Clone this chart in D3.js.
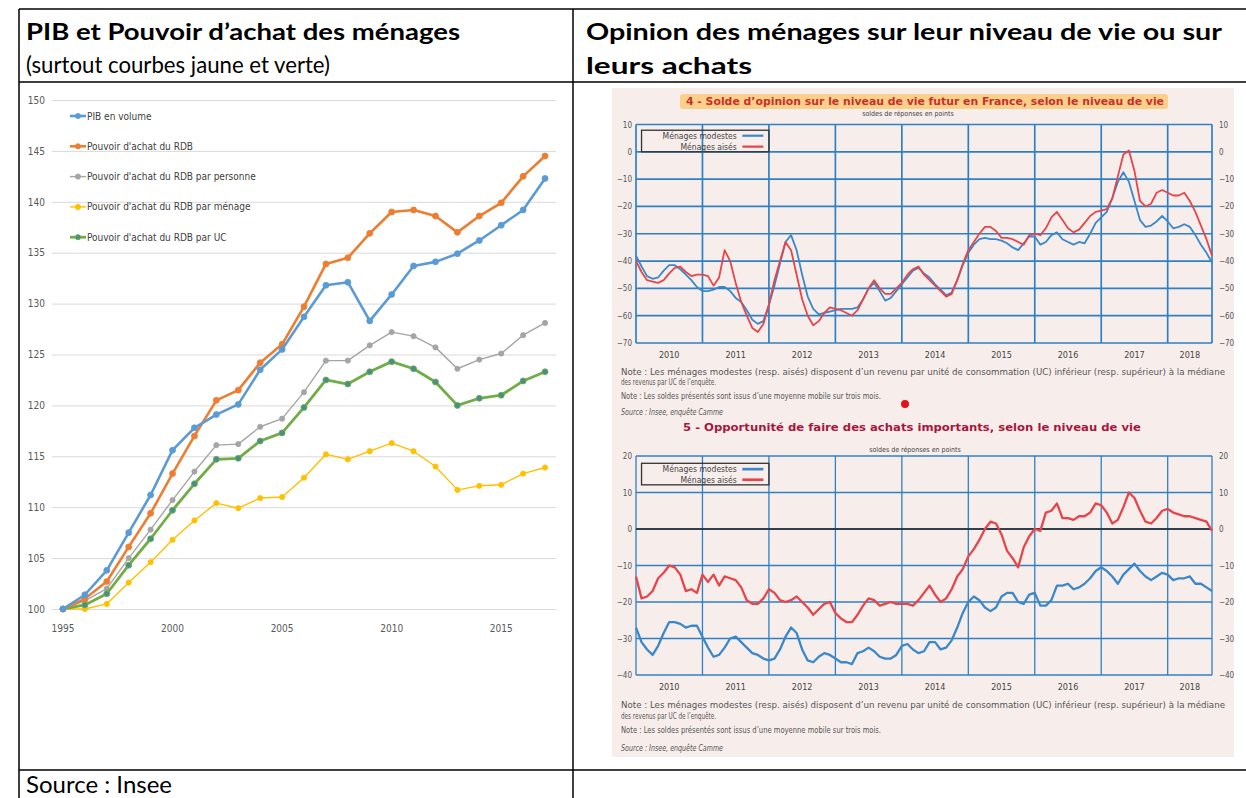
<!DOCTYPE html>
<html>
<head>
<meta charset="utf-8">
<script src="https://cdn.jsdelivr.net/npm/d3@7"></script>
<style>
  body { margin: 0; background: #fff; }
  svg { display: block; }
</style>
</head>
<body>
<script>
// ---- left chart : PIB et pouvoir d'achat (base 100 en 1995)
const years = [1995,1996,1997,1998,1999,2000,2001,2002,2003,2004,2005,2006,2007,2008,2009,2010,2011,2012,2013,2014,2015,2016,2017];
const yearTicks = [1995, 2000, 2005, 2010, 2015];
const pibVolume   = [100,101.4,103.8,107.5,111.2,115.6,117.8,119.1,120.1,123.5,125.5,128.7,131.8,132.1,128.3,130.9,133.7,134.1,134.9,136.2,137.7,139.2,142.3];
const rdb         = [100,101.0,102.7,106.1,109.4,113.3,117.0,120.5,121.5,124.2,126.0,129.7,133.9,134.5,136.9,139.0,139.2,138.6,137.0,138.6,139.9,142.5,144.5];
const rdbPersonne = [100,100.8,102.0,105.0,107.8,110.7,113.5,116.1,116.2,117.9,118.7,121.3,124.4,124.4,125.9,127.2,126.8,125.7,123.6,124.5,125.1,126.9,128.1];
const rdbMenage   = [100,100.0,100.5,102.6,104.6,106.8,108.7,110.4,109.9,110.9,111.0,112.9,115.2,114.7,115.5,116.3,115.5,114.0,111.7,112.1,112.2,113.3,113.9];
const rdbUC       = [100,100.4,101.5,104.3,106.9,109.7,112.3,114.7,114.8,116.5,117.3,119.8,122.5,122.1,123.3,124.3,123.6,122.3,120.0,120.7,121.0,122.4,123.3];
const seriesNames = ['PIB en volume', "Pouvoir d'achat du RDB", "Pouvoir d'achat du RDB par personne", "Pouvoir d'achat du RDB par ménage", "Pouvoir d'achat du RDB par UC"];

// ---- right charts : soldes mensuels, janvier 2010 -> septembre 2018
const opinionYears = [2010,2011,2012,2013,2014,2015,2016,2017,2018];
const niveauModestes = [
  -38,-42,-45.5,-46.5,-46,-43.5,-41.5,-41.5,-43,-45,-47,-49.5,
  -51,-51,-50.5,-49.5,-49.5,-51,-53.5,-55,-58,-61.5,-63,-62,
  -56,-49,-41,-33,-30.5,-36,-45,-53,-57.5,-59.5,-59,-58.5,
  -58,-57.5,-57.5,-57.5,-57,-54,-50,-48,-51,-54.5,-53.5,-51,
  -48.5,-46,-43.5,-42.5,-44.5,-46,-48.5,-50.5,-52.5,-51.5,-47,-41.5,
  -37,-34,-32,-31.5,-32,-32,-32.5,-33.5,-35,-36,-33.5,-31,
  -31,-34,-33,-30.5,-29.5,-32,-33,-34,-33,-33.5,-30,-26,
  -24,-22,-17,-11,-7.5,-11,-18,-25,-27.5,-27,-25.5,-23.5,
  -25.5,-28,-27.5,-26.5,-27.5,-30.5,-34,-37,-40.5];
const niveauAises = [
  -40,-44,-47,-47.5,-48,-47,-44.5,-42.5,-42,-44,-45.5,-45,
  -45,-45.5,-49,-46,-36,-40,-48,-55,-60,-64.5,-66,-63,
  -56,-47,-40,-33,-36,-45,-54,-60,-63.5,-62,-59,-57,
  -57.5,-58,-59,-60,-58,-54,-50,-47,-50,-52,-52,-50,
  -48,-45,-43,-42,-45,-47,-49,-51,-53,-52,-47,-41,
  -36,-33,-30,-27.5,-27.5,-29,-31.5,-31.5,-32,-33,-34,-30.5,
  -30,-30.5,-28,-24,-22,-25,-28,-29.5,-28.5,-26,-23.5,-22,
  -21.5,-21,-17,-9,-1,0.5,-7,-18,-20,-19,-15,-14,
  -15,-16,-16,-15,-18,-22,-27,-32,-38];
const achatsModestes = [
  -27,-31,-33,-34.5,-32,-28.5,-25.5,-25.5,-26,-27,-26.5,-26.5,
  -29.5,-32.5,-35,-34.5,-32.5,-30,-29.5,-31,-32.5,-34,-34.5,-35.5,
  -36,-35.5,-33,-29.5,-27,-28.5,-33,-36,-36.5,-35,-34,-34.5,
  -35.5,-36.5,-36.5,-37,-34,-33.5,-32.5,-33.5,-35,-35.5,-35.5,-34.5,
  -32,-31.5,-33,-34,-33.5,-31,-31,-33,-32.5,-30.5,-27,-23,
  -20,-18.5,-19.5,-21.5,-22.5,-21.5,-18.5,-17.5,-17.5,-20,-20.5,-18,
  -17.5,-21,-21,-19.5,-15.5,-15.5,-15,-16.5,-16,-15,-13.5,-11.5,
  -10.5,-11.5,-13,-15,-12.5,-11,-9.5,-11.5,-13,-14,-13,-12,
  -12.5,-14,-13.5,-13.5,-13,-15,-15,-16,-17];
const achatsAises = [
  -13,-19,-18.5,-17,-13.5,-12,-10,-10.5,-12.5,-17,-16.5,-17.5,
  -12.5,-14.5,-12.5,-15.5,-13,-13.5,-14,-16,-19.5,-20.5,-20.5,-19,
  -16.5,-17.5,-19.5,-20,-19.5,-18.5,-20,-21.5,-23.5,-22,-20.5,-20,
  -23,-24.5,-25.5,-25.5,-23.5,-21,-19,-19.5,-21,-20.5,-20,-20.5,
  -20.5,-20.5,-21,-19.5,-17.5,-15.5,-18,-20,-19,-16.5,-13,-11,
  -7.5,-5.5,-3,0,2,1.5,-1.5,-6,-8,-10.5,-5,-2,
  0,-0.5,4.5,5,7,3,3,2.5,3.5,3.5,4.5,7,
  6.5,4.5,1.5,2.5,6,10,8.5,5,2,1.5,3,5,
  5.5,4.5,4,3.5,3.5,3,2.5,2,-0.5];

const W = 1246, H = 798;
const narrow = "'Liberation Sans Narrow','DejaVu Sans Condensed',sans-serif";
const office = "Lato,'Open Sans',sans-serif";

const svg = d3.select('body').append('svg')
    .attr('width', W)
    .attr('height', H);

// ================= table frame and headings
const frame = svg.append('g').attr('stroke', '#000').attr('stroke-width', 1.5);
[[19, 9, W, 9], [19, 82, W, 82], [19, 770, W, 770], [19, 9, 19, H], [573, 9, 573, H]]
    .forEach(l => frame.append('line').attr('x1', l[0]).attr('y1', l[1]).attr('x2', l[2]).attr('y2', l[3]));

const heads = [
    {t: "PIB et Pouvoir d\u2019achat des ménages", x: 26, y: 40, w: 434, bold: true},
    {t: '(surtout courbes jaune et verte)', x: 26, y: 73, w: 304, bold: false},
    {t: "Opinion des ménages sur leur niveau de vie ou sur", x: 586, y: 40, w: 636, bold: true},
    {t: 'leurs achats', x: 586, y: 74, w: 166, bold: true},
    {t: 'Source : Insee', x: 26, y: 793, w: 146, bold: false}
];
svg.append('g').selectAll('text').data(heads).enter().append('text')
    .attr('x', d => d.x).attr('y', d => d.y)
    .attr('font-family', office)
    .attr('font-size', 23)
    .attr('font-weight', d => d.bold ? 700 : 400)
    .attr('textLength', d => d.w)
    .attr('lengthAdjust', 'spacingAndGlyphs')
    .attr('fill', '#000')
    .text(d => d.t);

// ================= left chart
const x1 = d3.scaleBand().domain(years).range([52, 556]);
const y1 = d3.scaleLinear().domain([100, 150]).range([609, 100]);
const cx = d => x1(d) + x1.bandwidth() / 2;

const gAxisY = svg.append('g')
    .attr('transform', 'translate(52,0)')
    .call(d3.axisLeft(y1).tickValues(d3.range(100, 151, 5)).tickSize(-504).tickPadding(7));
gAxisY.select('.domain').remove();
gAxisY.selectAll('line').attr('stroke', '#d9d9d9').attr('stroke-width', 1);
gAxisY.selectAll('text').attr('font-family', narrow).attr('font-size', 10).attr('fill', '#595959');

const gAxisX = svg.append('g')
    .attr('transform', 'translate(0,609)')
    .call(d3.axisBottom(x1).tickValues(yearTicks).tickSize(0).tickPadding(16));
gAxisX.select('.domain').remove();
gAxisX.selectAll('text').attr('font-family', narrow).attr('font-size', 10).attr('fill', '#595959');

const series1 = [
    {name: seriesNames[0], values: pibVolume,   color: '#5b9bd5', width: 2.6, marker: '#5b9bd5'},
    {name: seriesNames[1], values: rdb,         color: '#ed7d31', width: 2.6, marker: '#ed7d31'},
    {name: seriesNames[2], values: rdbPersonne, color: '#a5a5a5', width: 1.4, marker: '#a5a5a5'},
    {name: seriesNames[3], values: rdbMenage,   color: '#ffc000', width: 1.4, marker: '#ffc000'},
    {name: seriesNames[4], values: rdbUC,       color: '#70ad47', width: 2.8, marker: '#4a8e8a'}
];
const line1 = d3.line().x((d, i) => cx(years[i])).y(d => y1(d));

// draw order: light lines first, main lines on top
const order1 = [3, 2, 4, 1, 0];
order1.forEach(k => {
    const s = series1[k];
    const g = svg.append('g');
    g.append('path').datum(s.values)
        .attr('d', line1).attr('fill', 'none')
        .attr('stroke', s.color).attr('stroke-width', s.width).attr('stroke-linejoin', 'round');
    g.selectAll('circle').data(s.values).enter().append('circle')
        .attr('cx', (d, i) => cx(years[i])).attr('cy', d => y1(d))
        .attr('r', s.width > 2 ? 3 : 2.6)
        .attr('fill', s.marker).attr('stroke', s.color).attr('stroke-width', 0.8);
});

// legend inside the plot
const leg1 = svg.append('g').selectAll('g').data(series1).enter().append('g')
    .attr('transform', (d, i) => `translate(0,${116 + i * 30.3})`);
leg1.append('line').attr('x1', 70).attr('x2', 86).attr('y1', 0).attr('y2', 0)
    .attr('stroke', d => d.color).attr('stroke-width', d => d.width);
leg1.append('circle').attr('cx', 78).attr('cy', 0).attr('r', 2.6)
    .attr('fill', d => d.marker).attr('stroke', d => d.color).attr('stroke-width', 0.8);
leg1.append('text').attr('x', 87).attr('y', 3.5)
    .attr('font-family', narrow).attr('font-size', 10).attr('fill', '#404040')
    .text(d => d.name);

// ================= right panel : two INSEE charts
svg.append('rect').attr('x', 612).attr('y', 88).attr('width', 622).attr('height', 669)
    .attr('fill', '#f7eeec');

const xm = d3.scaleLinear().domain([0, 104]).range([636, 1212]);
const gridBlue = '#2f80c3';

function opinionChart(cfg) {
    const y = d3.scaleLinear().domain(cfg.domain).range([cfg.bottom, cfg.top]);
    const g = svg.append('g');

    // horizontal grid + frame
    const yt = d3.range(cfg.domain[0], cfg.domain[1] + 1, 10);
    g.selectAll('.hg').data(yt).enter().append('line')
        .attr('x1', xm(0)).attr('x2', xm(104)).attr('y1', d => y(d)).attr('y2', d => y(d))
        .attr('stroke', gridBlue).attr('stroke-width', cfg.grid);
    // january gridlines + frame
    const vt = [0, 12, 24, 36, 48, 60, 72, 84, 96, 104];
    g.selectAll('.vg').data(vt).enter().append('line')
        .attr('x1', d => xm(d)).attr('x2', d => xm(d)).attr('y1', y(cfg.domain[0])).attr('y2', y(cfg.domain[1]))
        .attr('stroke', gridBlue).attr('stroke-width', cfg.grid);
    if (cfg.zero) {
        g.append('line').attr('x1', xm(0)).attr('x2', xm(104)).attr('y1', y(0)).attr('y2', y(0))
            .attr('stroke', '#222').attr('stroke-width', 1.3);
    }

    // tick labels both sides
    const fmt = d3.format('');
    g.selectAll('.tl').data(yt).enter().append('text')
        .attr('x', 632).attr('y', d => y(d) + 3).attr('text-anchor', 'end')
        .attr('font-family', narrow).attr('font-size', 8).attr('fill', '#555').text(fmt);
    g.selectAll('.tr').data(yt).enter().append('text')
        .attr('x', 1219).attr('y', d => y(d) + 3)
        .attr('font-family', narrow).attr('font-size', 8).attr('fill', '#555').text(fmt);

    // year labels centred on each year span
    g.selectAll('.yl').data(opinionYears).enter().append('text')
        .attr('x', (d, i) => xm((i * 12 + Math.min(i * 12 + 12, 104)) / 2))
        .attr('y', cfg.bottom + 15).attr('text-anchor', 'middle')
        .attr('font-family', narrow).attr('font-size', 9).attr('fill', '#444').text(d => d);

    // series
    const line = d3.line().x((d, i) => xm(i)).y(d => y(d));
    g.append('path').datum(cfg.modestes).attr('d', line).attr('fill', 'none')
        .attr('stroke', '#3a87c9').attr('stroke-width', cfg.lw).attr('stroke-linejoin', 'round');
    g.append('path').datum(cfg.aises).attr('d', line).attr('fill', 'none')
        .attr('stroke', '#e5454b').attr('stroke-width', cfg.lw).attr('stroke-linejoin', 'round');

    // legend box
    const lx0 = xm(1), lx1 = xm(24);
    g.append('rect').attr('x', lx0).attr('y', y(cfg.legTop)).attr('width', lx1 - lx0)
        .attr('height', y(cfg.legBottom) - y(cfg.legTop))
        .attr('fill', 'none').attr('stroke', '#333').attr('stroke-width', 1.3);
    [['Ménages modestes', '#3a87c9', cfg.legRow1], ['Ménages aisés', '#e5454b', cfg.legRow2]].forEach(r => {
        g.append('text').attr('x', xm(18.2)).attr('y', y(r[2]) + 3).attr('text-anchor', 'end')
            .attr('font-family', narrow).attr('font-size', 8.5).attr('fill', '#444').text(r[0]);
        g.append('line').attr('x1', xm(19.2)).attr('x2', xm(23)).attr('y1', y(r[2])).attr('y2', y(r[2]))
            .attr('stroke', r[1]).attr('stroke-width', cfg.lw + 0.4);
    });

    // title and subtitle
    if (cfg.highlight) {
        g.append('rect').attr('x', 680).attr('y', cfg.titleY - 11).attr('width', 488).attr('height', 15)
            .attr('rx', 3).attr('fill', '#fbd08a');
    }
    g.append('text').attr('x', cfg.titleX).attr('y', cfg.titleY)
        .attr('font-family', "'DejaVu Sans',sans-serif").attr('font-weight', 700).attr('font-size', 11)
        .attr('textLength', cfg.titleW).attr('lengthAdjust', 'spacingAndGlyphs')
        .attr('fill', cfg.titleColor).text(cfg.title);
    g.append('text').attr('x', cfg.subX).attr('y', cfg.subY).attr('text-anchor', 'middle')
        .attr('font-family', narrow).attr('font-size', 7).attr('fill', '#444')
        .text('soldes de réponses en points');

    // notes
    const notes = [
        {t: "Note : Les ménages modestes (resp. aisés) disposent d\u2019un revenu par unité de consommation (UC) inférieur (resp. supérieur) à la médiane", w: 604},
        {t: "des revenus par UC de l\u2019enquête.", w: 95},
        {t: "Note : Les soldes présentés sont issus d\u2019une moyenne mobile sur trois mois.", w: 260},
        {t: 'Source : Insee, enquête Camme', w: 102, italic: true}
    ];
    g.selectAll('.nt').data(notes).enter().append('text')
        .attr('x', 621).attr('y', (d, i) => cfg.notesY[i])
        .attr('font-family', narrow).attr('font-size', 8.5).attr('fill', '#555')
        .attr('font-style', d => d.italic ? 'italic' : 'normal')
        .attr('textLength', d => d.w).attr('lengthAdjust', 'spacingAndGlyphs')
        .text(d => d.t);
}

opinionChart({
    domain: [-70, 10], top: 124.5, bottom: 343, grid: 1.7, lw: 1.8, zero: false,
    modestes: niveauModestes, aises: niveauAises,
    legTop: 7.9, legBottom: 0, legRow1: 5.9, legRow2: 1.9,
    highlight: true, titleX: 686, titleY: 105, titleW: 478, titleColor: '#c8302c',
    title: "4 - Solde d\u2019opinion sur le niveau de vie futur en France, selon le niveau de vie",
    subX: 908, subY: 115.5,
    notesY: [375, 384.5, 398.5, 415]
});
opinionChart({
    domain: [-40, 20], top: 456, bottom: 675, grid: 1.3, lw: 2.3, zero: true,
    modestes: achatsModestes, aises: achatsAises,
    legTop: 18, legBottom: 12.1, legRow1: 16.4, legRow2: 13.5,
    highlight: false, titleX: 683, titleY: 431, titleW: 458, titleColor: '#a8173e',
    title: ' 5 - Opportunité de faire des achats importants, selon le niveau de vie',
    subX: 915, subY: 452,
    notesY: [708, 718.5, 733, 751]
});

// stray red dot of the scanned page
svg.append('circle').attr('cx', 905).attr('cy', 404).attr('r', 4).attr('fill', '#e0131b');
</script>
</body>
</html>
